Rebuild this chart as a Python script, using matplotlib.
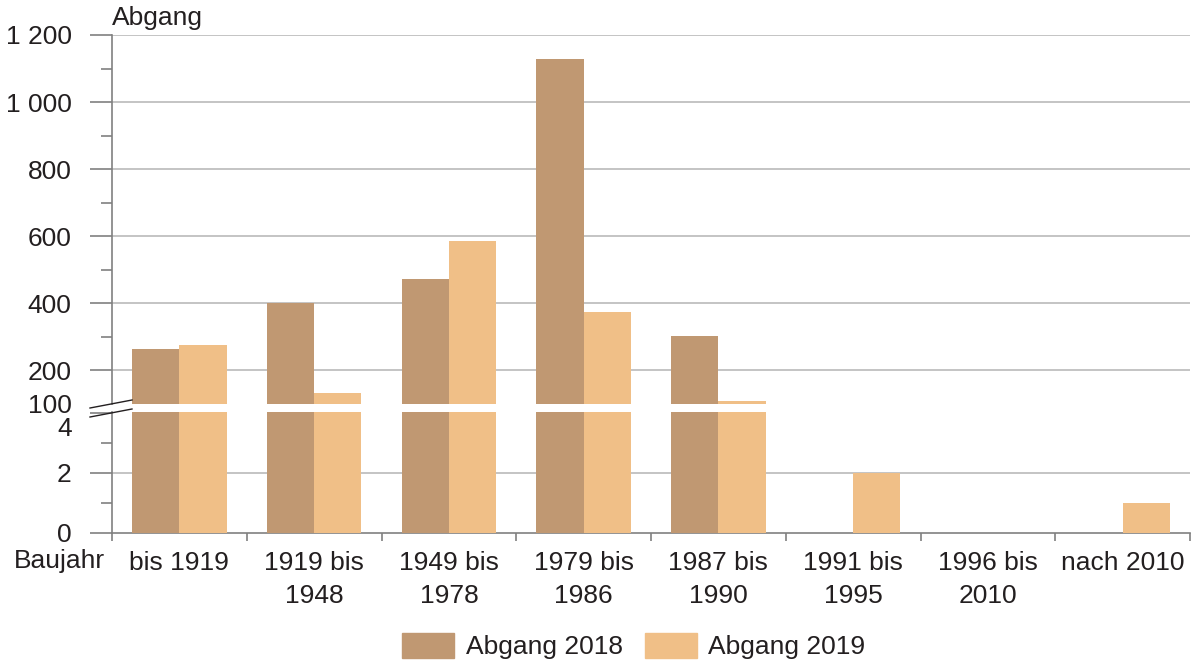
import numpy as np
import matplotlib
matplotlib.use("Agg")
import matplotlib.pyplot as plt
from matplotlib.lines import Line2D
from matplotlib.patches import Patch

plt.rcParams['font.family'] = ['Liberation Sans', 'DejaVu Sans']
plt.rcParams['font.size'] = 19
plt.rcParams['text.color'] = '#231F20'

# Daten
kategorien = ['bis 1919', '1919 bis\n1948', '1949 bis\n1978', '1979 bis\n1986',
              '1987 bis\n1990', '1991 bis\n1995', '1996 bis\n2010', 'nach 2010']
abgang_2018 = [264, 400, 473, 1128, 303, 0, 0, 0]
abgang_2019 = [276, 133, 586, 374, 109, 2, 0, 1]

col_2018 = '#C09872'
col_2019 = '#F0BF87'
grau = '#808080'
gitter = '#B4B4B4'
textc = '#231F20'
fs = 19

W, H = 1195, 663
fig = plt.figure(figsize=(W / 100, H / 100), dpi=100)

def fx(px):
    return px / W

def fy(py):
    return 1 - py / H

left, right = 112, 1190
ax_hi = fig.add_axes([fx(left), fy(404), fx(right - left), fy(35) - fy(404)])
ax_lo = fig.add_axes([fx(left), fy(533), fx(right - left), fy(412) - fy(533)])

x = np.arange(len(kategorien))
bw = 0.35
for ax in (ax_hi, ax_lo):
    ax.bar(x - bw / 2, abgang_2018, bw, color=col_2018, zorder=3)
    ax.bar(x + bw / 2, abgang_2019, bw, color=col_2019, zorder=3)
    ax.set_xlim(-0.5, len(kategorien) - 0.5)
    for s in ('top', 'right'):
        ax.spines[s].set_visible(False)
    ax.spines['left'].set_color(grau)
    ax.spines['left'].set_linewidth(1.2)
    # Tick-Laengen in pt (1 px = 0.72 pt)
    ax.tick_params(axis='y', which='major', length=16, width=1.2, color=grau,
                   labelcolor=textc, labelsize=fs, pad=13)
    ax.tick_params(axis='y', which='minor', length=8, width=1.2, color=grau)
    ax.grid(axis='y', which='major', color=gitter, linewidth=1.1, zorder=0)

# oberer Teil
ax_hi.set_ylim(100, 1200)
ax_hi.set_yticks([100, 200, 400, 600, 800, 1000, 1200])
ax_hi.set_yticklabels(['100', '200', '400', '600', '800', '1 000', '1 200'])
ax_hi.set_yticks([300, 500, 700, 900, 1100], minor=True)
t0 = ax_hi.yaxis.get_major_ticks()[0]
t0.tick1line.set_visible(False)
t0.gridline.set_visible(False)
ax_hi.spines['bottom'].set_visible(False)
ax_hi.set_xticks([])

# unterer Teil
ax_lo.set_ylim(0, 4.03)
ax_lo.set_yticks([0, 2, 4])
ax_lo.set_yticklabels(['0', '2', ''])
ax_lo.set_yticks([1, 3], minor=True)
ax_lo.yaxis.get_major_ticks()[2].gridline.set_visible(False)
ax_lo.yaxis.get_major_ticks()[0].gridline.set_visible(False)
ax_lo.spines['bottom'].set_color(grau)
ax_lo.spines['bottom'].set_linewidth(1.2)
ax_lo.set_xticks(x)
ax_lo.set_xticklabels(kategorien, linespacing=1.45)
ax_lo.set_xticks(np.arange(len(kategorien) + 1) - 0.5, minor=True)
ax_lo.tick_params(axis='x', which='major', length=0, pad=13, labelsize=fs, labelcolor=textc)
ax_lo.tick_params(axis='x', which='minor', length=6, width=1.2, color=grau, direction='out')

# "4" etwas nach unten versetzt, wie im Original
fig.text(fx(72), fy(429), '4', ha='right', va='center', fontsize=fs)

# Achsenbruch
for y0, y1 in ((408, 400), (417, 409)):
    fig.add_artist(Line2D([fx(90), fx(132)], [fy(y0), fy(y1)], color=textc, linewidth=1.0))

fig.text(fx(112), fy(18), 'Abgang', va='center', ha='left', fontsize=fs)
fig.text(fx(105), fy(561), 'Baujahr', va='center', ha='right', fontsize=fs)

handles = [Patch(color=col_2018, label='Abgang 2018'), Patch(color=col_2019, label='Abgang 2019')]
fig.legend(handles=handles, loc='center', bbox_to_anchor=(fx(634), fy(646)), ncol=2,
           frameon=False, fontsize=fs, handlelength=1.95, handleheight=1.1,
           handletextpad=0.45, columnspacing=0.85)

fig.savefig('out.png', dpi=100)
